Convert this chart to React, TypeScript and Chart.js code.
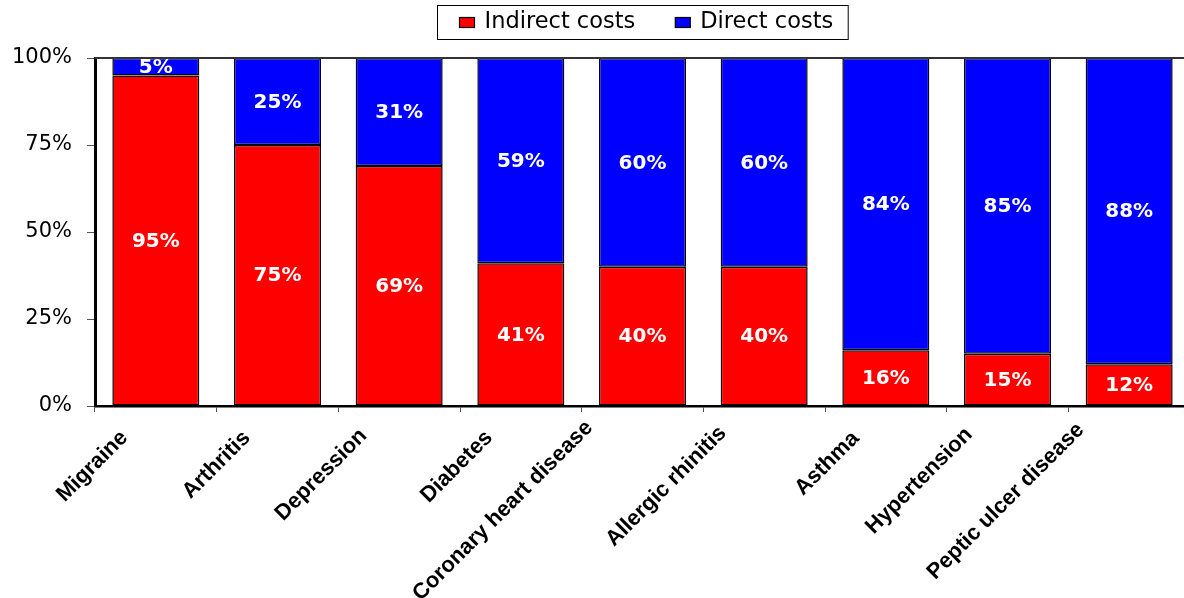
import React, { useEffect, useRef } from 'react';
import { Chart, registerables } from 'chart.js';

Chart.register(...registerables);

const categories = [
  'Migraine',
  'Arthritis',
  'Depression',
  'Diabetes',
  'Coronary heart disease',
  'Allergic rhinitis',
  'Asthma',
  'Hypertension',
  'Peptic ulcer disease',
];
const indirectCosts = [95, 75, 69, 41, 40, 40, 16, 15, 12];
const directCosts = [5, 25, 31, 59, 60, 60, 84, 85, 88];
const yTicks = [0, 25, 50, 75, 100];
const seriesNames = ['Indirect costs', 'Direct costs'];
const seriesColors = ['#FF0000', '#0000FF'];

const X_LABEL_FONT = 'bold 22px "Liberation Sans"';
let measureCtx: CanvasRenderingContext2D | null = null;
function labelWidth(text: string): number {
  if (!measureCtx) measureCtx = document.createElement('canvas').getContext('2d');
  if (!measureCtx) return 0;
  measureCtx.font = X_LABEL_FONT;
  return measureCtx.measureText(text).width;
}

// Excel-like placement: longer rotated labels sit slightly further up-left.
const shiftXLabels = {
  id: 'shiftXLabels',
  beforeDraw(chart: any) {
    const scale = chart.scales.x;
    if (!scale || !scale.getLabelItems) return;
    const items = scale.getLabelItems(chart.chartArea);
    items.forEach((item: any) => {
      if (item._shifted) return;
      const d = labelWidth(String(item.label)) - 137;
      const [tx, ty] = item.options.translation;
      item.options.translation = [tx - 0.141 * d, ty - 0.065 * d];
      item._shifted = true;
    });
  },
};

const topBorder = {
  id: 'topBorder',
  afterDatasetsDraw(chart: any) {
    const { ctx, chartArea } = chart;
    ctx.save();
    ctx.strokeStyle = '#333';
    ctx.lineWidth = 2;
    ctx.beginPath();
    ctx.moveTo(chartArea.left, chartArea.top);
    ctx.lineTo(chartArea.right, chartArea.top);
    ctx.stroke();
    ctx.restore();
  },
};

const valueLabels = {
  id: 'valueLabels',
  afterDatasetsDraw(chart: any) {
    const ctx = chart.ctx;
    ctx.save();
    ctx.font = 'bold 20px "DejaVu Sans"';
    ctx.fillStyle = '#fff';
    ctx.textAlign = 'center';
    ctx.textBaseline = 'middle';
    chart.data.datasets.forEach((ds: any, di: number) => {
      const meta = chart.getDatasetMeta(di);
      meta.data.forEach((el: any, i: number) => {
        const { x, y, base } = el.getProps(['x', 'y', 'base'], true);
        ctx.fillText(ds.data[i] + '%', x, (y + base) / 2 + 1);
      });
    });
    ctx.restore();
  },
};

const boxLegend = {
  id: 'boxLegend',
  afterDraw(chart: any) {
    const ctx = chart.ctx;
    ctx.save();
    ctx.font = '22.5px "DejaVu Sans"';
    const sw = 15, sh = 10, gapText = 10, gapItem = 40, padL = 22, padR = 15;
    const items = chart.data.datasets.map((ds: any) => ({
      label: ds.label,
      color: ds.backgroundColor,
      w: ctx.measureText(ds.label).width,
    }));
    const inner = items.reduce(
      (a: number, it: any, i: number) => a + sw + gapText + it.w + (i ? gapItem : 0),
      0
    );
    const total = padL + inner + padR;
    const cx = (chart.chartArea.left + chart.chartArea.right) / 2;
    const left = Math.round(cx - total / 2) + 0.5;
    const top = 5.5;
    const height = 34;
    ctx.fillStyle = '#fff';
    ctx.fillRect(left, top, total, height);
    ctx.strokeStyle = '#000';
    ctx.lineWidth = 1;
    ctx.strokeRect(left, top, total, height);
    let x = left + padL;
    const cy = top + height / 2;
    items.forEach((it: any) => {
      ctx.fillStyle = it.color;
      ctx.fillRect(x, cy - sh / 2, sw, sh);
      ctx.strokeStyle = '#000';
      ctx.lineWidth = 1.2;
      ctx.strokeRect(x, cy - sh / 2, sw, sh);
      ctx.fillStyle = '#000';
      ctx.textAlign = 'left';
      ctx.textBaseline = 'alphabetic';
      ctx.fillText(it.label, x + sw + gapText, cy + 5.5);
      x += sw + gapText + it.w + gapItem;
    });
    ctx.restore();
  },
};

export default function App() {
  const ref = useRef<HTMLCanvasElement | null>(null);

  useEffect(() => {
    if (!ref.current) return;
    const barStyle = {
      borderColor: '#000',
      borderWidth: 1.5,
      borderSkipped: false,
      barPercentage: 0.715,
      categoryPercentage: 1,
    };
    const chart = new Chart(ref.current, {
      type: 'bar',
      data: {
        labels: categories,
        datasets: [
          { label: seriesNames[0], data: indirectCosts, backgroundColor: seriesColors[0], ...barStyle },
          { label: seriesNames[1], data: directCosts, backgroundColor: seriesColors[1], ...barStyle },
        ],
      } as any,
      options: {
        responsive: false,
        animation: false,
        layout: { padding: { top: 58, left: 0, right: 0, bottom: 0 } },
        plugins: {
          legend: { display: false },
          tooltip: { enabled: false },
        },
        scales: {
          x: {
            stacked: true,
            offset: true,
            grid: {
              offset: true,
              drawOnChartArea: false,
              drawTicks: true,
              tickLength: 6,
              color: '#555',
            },
            border: { display: true, color: '#000', width: 2.5 },
            ticks: {
              autoSkip: false,
              maxRotation: 45,
              minRotation: 45,
              labelOffset: -38,
              padding: 10,
              color: '#000',
              font: { family: 'Liberation Sans', weight: 'bold', size: 22 },
            },
            afterFit: (s: any) => {
              s.height = 192;
            },
          },
          y: {
            stacked: true,
            min: 0,
            max: 100,
            grid: { drawOnChartArea: false, tickLength: 8, color: '#555' },
            border: { display: true, color: '#000', width: 3 },
            ticks: {
              padding: 15,
              color: '#000',
              font: { family: 'DejaVu Sans', size: 21 },
              callback: (v: any) => v + '%',
            },
            afterBuildTicks: (s: any) => {
              s.ticks = yTicks.map((v) => ({ value: v }));
            },
            afterFit: (s: any) => {
              s.width = 95;
            },
          },
        },
      } as any,
      plugins: [shiftXLabels, topBorder, valueLabels, boxLegend],
    });
    return () => chart.destroy();
  }, []);

  return (
    <div
      style={{
        position: 'fixed',
        left: 0,
        top: 0,
        width: 1184,
        height: 598,
        overflow: 'hidden',
        background: '#fff',
      }}
    >
      <canvas ref={ref} width={1190} height={598} style={{ display: 'block' }} />
    </div>
  );
}
